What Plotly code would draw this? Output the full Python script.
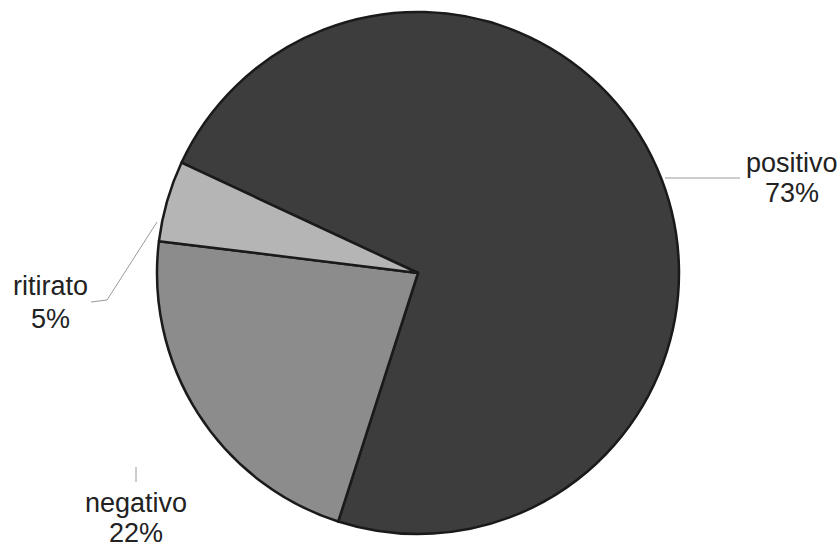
import plotly.graph_objects as go

labels = ["positivo", "negativo", "ritirato"]
values = [73, 22, 5]
colors = ["#3d3d3d", "#8c8c8c", "#b5b5b5"]

W, H = 840, 549
cx, cy, r = 418, 273, 261  # pie centre and radius in pixels

fig = go.Figure(go.Pie(
    labels=labels,
    values=values,
    sort=False,
    direction="clockwise",
    rotation=295,
    marker=dict(colors=colors, line=dict(color="#1a1a1a", width=2.5)),
    textinfo="none",
    hoverinfo="label+percent",
    domain=dict(x=[(cx - r) / W, (cx + r) / W],
                y=[(H - cy - r) / H, (H - cy + r) / H]),
    showlegend=False,
))

def px(x, y):
    return x / W, 1 - y / H

# label text centres: (name line, percent line)
label_pos = {
    "positivo": ((792, 162.5), (792, 192.5)),
    "negativo": ((136, 503.5), (136, 533)),
    "ritirato": ((50, 285.5), (50, 318.5)),
}
total = sum(values)
annotations = []
for name, v in zip(labels, values):
    (x1, y1), (x2, y2) = label_pos[name]
    for (x, y), txt in (((x1, y1), name), ((x2, y2), f"{round(100 * v / total)}%")):
        ax, ay = px(x, y)
        annotations.append(dict(
            x=ax, y=ay, xref="paper", yref="paper", text=txt, showarrow=False,
            xanchor="center", yanchor="middle",
            font=dict(family="Liberation Sans, Arial", size=27, color="#222222"),
        ))

# leader lines from slices to labels
leaders = [
    [(665, 178), (740, 178)],
    [(157, 222), (107, 300), (91, 302)],
    [(136, 467), (136, 482)],
]
shapes = []
for pts in leaders:
    for (xa, ya), (xb, yb) in zip(pts[:-1], pts[1:]):
        p0 = px(xa, ya)
        p1 = px(xb, yb)
        shapes.append(dict(type="line", xref="paper", yref="paper",
                           x0=p0[0], y0=p0[1], x1=p1[0], y1=p1[1],
                           line=dict(color="#9a9a9a", width=1)))

fig.update_layout(
    width=W, height=H,
    margin=dict(l=0, r=0, t=0, b=0),
    paper_bgcolor="white",
    plot_bgcolor="white",
    annotations=annotations,
    shapes=shapes,
)

fig.write_html("out.html")
